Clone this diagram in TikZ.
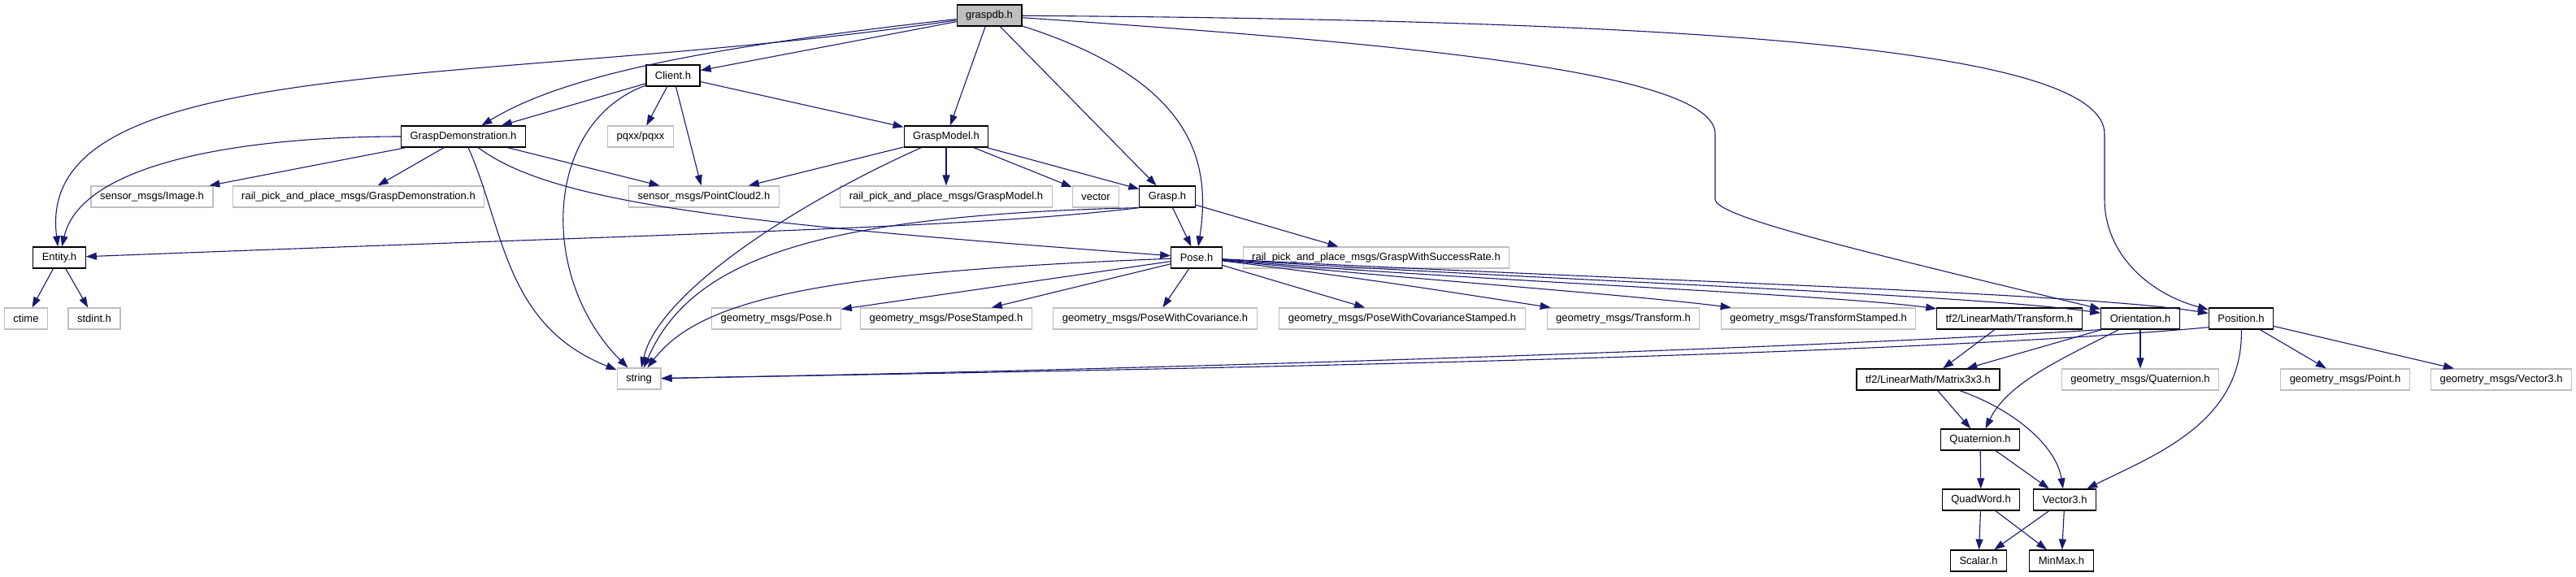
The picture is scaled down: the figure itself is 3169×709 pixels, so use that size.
\documentclass[tikz,border=0pt]{standalone}
\usepackage{fontspec}
\setmainfont{Liberation Sans}
\usetikzlibrary{arrows.meta}
\definecolor{EdgeBlue}{RGB}{25,25,112}
\definecolor{ExtGray}{RGB}{191,191,191}
\definecolor{RootGray}{RGB}{191,191,191}

\begin{document}
\begin{tikzpicture}[x=0.5pt, y=-0.5pt, font=\fontsize{6.5}{7.5}\selectfont,
	hfile/.style={rectangle, draw=black, line width=0.6pt, inner xsep=5.5pt,
		inner ysep=0pt, minimum height=13pt},
	hext/.style={hfile, draw=ExtGray},
	hroot/.style={hfile, fill=RootGray},
	incl/.style={-{Triangle[length=6.5pt, width=4.5pt]}, draw=EdgeBlue, line width=0.55pt}]

	\useasboundingbox (0,0) rectangle (3169,709);

	\node[hroot] (graspdb)    at (1217,19)  {graspdb.h};
	\node[hfile] (client)     at (828,93)   {Client.h};
	\node[hfile] (gdemo)      at (570,168)  {GraspDemonstration.h};
	\node[hext]  (pqxx)       at (788,168)  {pqxx/pqxx};
	\node[hfile] (gmodel)     at (1164,168) {GraspModel.h};
	\node[hext]  (image)      at (187,242)  {sensor\_msgs/Image.h};
	\node[hext]  (gdemomsg)   at (441,242)  {rail\_pick\_and\_place\_msgs/GraspDemonstration.h};
	\node[hext]  (cloud)      at (866,242)  {sensor\_msgs/PointCloud2.h};
	\node[hext]  (gmodelmsg)  at (1164,242) {rail\_pick\_and\_place\_msgs/GraspModel.h};
	\node[hext]  (vector)     at (1348,242) {vector};
	\node[hfile] (grasp)      at (1436,242) {Grasp.h};
	\node[hfile] (entity)     at (73,317)   {Entity.h};
	\node[hfile] (pose)       at (1472,317) {Pose.h};
	\node[hext]  (successmsg) at (1693,317) {rail\_pick\_and\_place\_msgs/GraspWithSuccessRate.h};
	\node[hext]  (ctime)      at (32,392)   {ctime};
	\node[hext]  (stdint)     at (116,392)  {stdint.h};
	\node[hext]  (gpose)      at (955,392)  {geometry\_msgs/Pose.h};
	\node[hext]  (gposest)    at (1164,392) {geometry\_msgs/PoseStamped.h};
	\node[hext]  (gposecov)   at (1421,392) {geometry\_msgs/PoseWithCovariance.h};
	\node[hext]  (gposecovst) at (1725,392) {geometry\_msgs/PoseWithCovarianceStamped.h};
	\node[hext]  (gtf)        at (1997,392) {geometry\_msgs/Transform.h};
	\node[hext]  (gtfst)      at (2237,392) {geometry\_msgs/TransformStamped.h};
	\node[hfile] (tftf)       at (2472,392) {tf2/LinearMath/Transform.h};
	\node[hfile] (orient)     at (2633,392) {Orientation.h};
	\node[hfile] (posit)      at (2757,392) {Position.h};
	\node[hext]  (string)     at (786,466)  {string};
	\node[hfile] (mat)        at (2372,467) {tf2/LinearMath/Matrix3x3.h};
	\node[hext]  (gquat)      at (2633,467) {geometry\_msgs/Quaternion.h};
	\node[hext]  (gpoint)     at (2885,467) {geometry\_msgs/Point.h};
	\node[hext]  (gvec)       at (3077,467) {geometry\_msgs/Vector3.h};
	\node[hfile] (quat)       at (2436,541) {Quaternion.h};
	\node[hfile] (quadword)   at (2437,615) {QuadWord.h};
	\node[hfile] (vec)        at (2540,615) {Vector3.h};
	\node[hfile] (scalar)     at (2434,690) {Scalar.h};
	\node[hfile] (minmax)     at (2536,690) {MinMax.h};

	\draw[incl] (graspdb) -- (client);
	\draw[incl] (graspdb) .. controls (850,60) and (690,95) .. (gdemo);
	\draw[incl] (graspdb) .. controls (600,110) and (40,60) .. (entity);
	\draw[incl] (graspdb) -- (gmodel);   \draw[incl] (graspdb) -- (grasp);
	\draw[incl] (graspdb) .. controls (1470,100) and (1490,200) .. (pose);
	\draw[incl] (graspdb) .. controls (1750,55) and (2110,90) .. (2110,165) -- (2110,245)
		.. controls (2110,265) and (2250,300) .. (orient);
	\draw[incl] (graspdb) .. controls (2100,25) and (2589,60) .. (2589,165) -- (2589,245)
		.. controls (2589,310) and (2640,360) .. (posit);

	\draw[incl] (client) -- (gdemo);   \draw[incl] (client) -- (pqxx);
	\draw[incl] (client) -- (cloud);   \draw[incl] (client) -- (gmodel);
	\draw[incl] (client) .. controls (670,150) and (660,340) .. (string);

	\draw[incl] (gdemo) .. controls (300,168) and (100,200) .. (entity);
	\draw[incl] (gdemo) -- (image);   \draw[incl] (gdemo) -- (gdemomsg);
	\draw[incl] (gdemo) -- (cloud);
	\draw[incl] (gdemo) .. controls (620,280) and (620,400) .. (string);
	\draw[incl] (gdemo) .. controls (680,250) and (900,275) .. (pose);

	\draw[incl] (gmodel) -- (cloud);   \draw[incl] (gmodel) -- (gmodelmsg);
	\draw[incl] (gmodel) -- (vector);  \draw[incl] (gmodel) -- (grasp);
	\draw[incl] (gmodel) .. controls (980,250) and (810,360) .. (string);

	\draw[incl] (grasp.south west) .. controls (1200,280) and (900,285) .. (entity);
	\draw[incl] (grasp.south west) .. controls (1000,265) and (850,320) .. (string);
	\draw[incl] (grasp) -- (pose);   \draw[incl] (grasp) -- (successmsg);

	\draw[incl] (entity) -- (ctime);   \draw[incl] (entity) -- (stdint);

	\draw[incl] (pose) .. controls (1000,335) and (860,370) .. (string);
	\draw[incl] (pose) -- (gpose);      \draw[incl] (pose) -- (gposest);
	\draw[incl] (pose) -- (gposecov);   \draw[incl] (pose) -- (gposecovst);
	\draw[incl] (pose) .. controls (1700,345) and (1800,362) .. (gtf);
	\draw[incl] (pose) .. controls (1750,345) and (2000,362) .. (gtfst);
	\draw[incl] (pose) .. controls (1800,345) and (2250,362) .. (tftf);
	\draw[incl] (pose) .. controls (1900,345) and (2420,362) .. (orient);
	\draw[incl] (pose) .. controls (2000,345) and (2560,360) .. (posit);

	\draw[incl] (tftf) -- (mat);
	\draw[incl] (orient) -- (mat);   \draw[incl] (orient) -- (gquat);
	\draw[incl] (orient) .. controls (2540,440) and (2470,470) .. (quat);
	\draw[incl] (orient.south west) .. controls (2200,430) and (1400,455) .. (string);
	\draw[incl] (posit.-165) .. controls (2300,440) and (1400,455) .. (string);
	\draw[incl] (posit) .. controls (2760,520) and (2650,560) .. (vec);
	\draw[incl] (posit) -- (gpoint);   \draw[incl] (posit) -- (gvec);

	\draw[incl] (mat) -- (quat);
	\draw[incl] (mat) .. controls (2480,505) and (2530,550) .. (vec);
	\draw[incl] (quat) -- (quadword);   \draw[incl] (quat) -- (vec);
	\draw[incl] (quadword) -- (scalar); \draw[incl] (quadword) -- (minmax);
	\draw[incl] (vec) -- (scalar);      \draw[incl] (vec) -- (minmax);
\end{tikzpicture}
\end{document}
